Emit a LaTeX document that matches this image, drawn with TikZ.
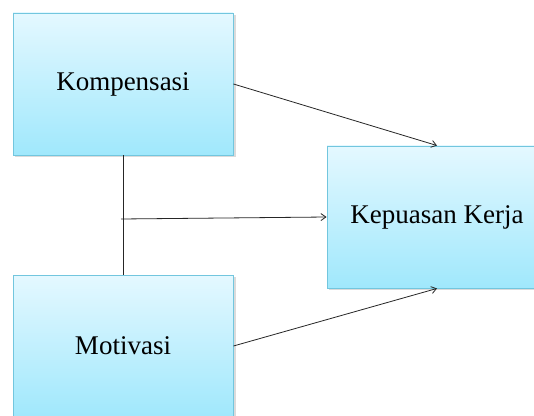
\documentclass[tikz,border=0pt]{standalone}
\usepackage{fontspec}
\setmainfont{Liberation Serif}
\usetikzlibrary{arrows.meta}
\definecolor{boxtop}{HTML}{E4F8FF}
\definecolor{boxbot}{HTML}{A0E8FC}
\definecolor{boxline}{HTML}{72C6DE}
\tikzset{
  varbox/.style={rectangle, minimum width=220pt, minimum height=142pt,
    top color=boxtop, bottom color=boxbot, draw=boxline, line width=0.9pt,
    font=\fontsize{27}{30}\selectfont, inner sep=0pt},
  shadowbox/.style={fill=black!14, draw=none},
  link/.style={line width=0.8pt, draw=black!85},
  arr/.style={link, -{Straight Barb[length=5pt,width=7pt,line width=0.8pt]}}
}
\begin{document}
\begin{tikzpicture}[x=1pt,y=1pt]
\useasboundingbox (0,0) rectangle (534,415);
\clip (0,0) rectangle (534,415);
\fill[white] (0,0) rectangle (534,415);
% shadows
\fill[shadowbox] (15,415-157) rectangle (235.5,415-15);
\fill[shadowbox] (329,415-290) rectangle (549.5,415-148);
\fill[shadowbox] (15,415-419) rectangle (235.5,415-277);
% boxes
\node[varbox] (komp) at (123,415-84) {Kompensasi};
\node[varbox] (kep) at (437,415-217) {Kepuasan Kerja};
\node[varbox] (mot) at (123,415-346) {Motivasi};
\coordinate (j) at (121,415-219);
% connectors
\draw[link] (komp.south) -- (mot.north);
\draw[arr] (j) -- (kep.west);
\draw[arr] (komp.east) -- (kep.north);
\draw[arr] (mot.east) -- (kep.south);
\end{tikzpicture}
\end{document}
